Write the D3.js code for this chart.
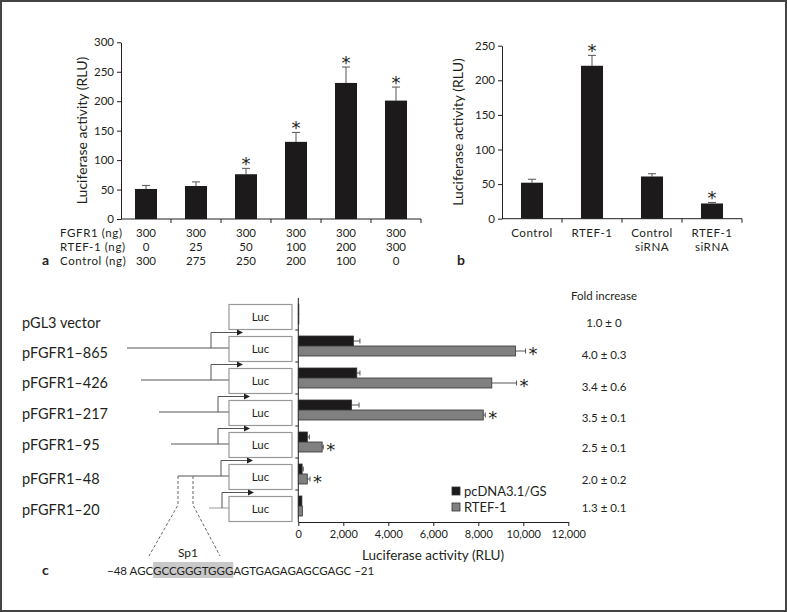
<!DOCTYPE html>
<html><head><meta charset="utf-8">
<script src="https://cdn.jsdelivr.net/npm/d3@7"></script>
<style>body{margin:0;background:#fff} svg{display:block;font-family:Lato,'Noto Sans',sans-serif}</style>
</head><body><svg id="fig" width="787" height="612"></svg>
<script>
// ---------- Panel a data ----------
const aFGFR1 = [300, 300, 300, 300, 300, 300];
const aRTEF1 = [0, 25, 50, 100, 200, 300];
const aControl = [300, 275, 250, 200, 100, 0];
const aMeans = [51, 56, 76, 131, 231, 201];
const aErr = [6, 7, 10, 16, 27, 23];
const aSig = [false, false, true, true, true, true];
const aTicks = [0, 50, 100, 150, 200, 250, 300];
const aRowLabels = ["FGFR1 (ng)", "RTEF-1 (ng)", "Control (ng)"];

// ---------- Panel b data ----------
const bCats = [["Control"], ["RTEF-1"], ["Control", "siRNA"], ["RTEF-1", "siRNA"]];
const bMeans = [52, 221, 61, 22];
const bErr = [5, 15, 4, 1.5];
const bSig = [false, true, false, true];
const bTicks = [0, 50, 100, 150, 200, 250];

// ---------- Panel c data ----------
const cConstructs = ["pGL3 vector", "pFGFR1–865", "pFGFR1–426", "pFGFR1–217", "pFGFR1–95", "pFGFR1–48", "pFGFR1–20"];
const cPromStart = [null, -865, -426, -217, -95, -48, -20];
const cCtrl = [25, 2450, 2600, 2370, 400, 170, 160];
const cCtrlErr = [0, 290, 140, 330, 90, 50, 0];
const cRtef = [25, 9650, 8600, 8220, 1060, 400, 180];
const cRtefErr = [0, 450, 1100, 90, 50, 120, 0];
const cSig = [false, true, true, true, true, true, false];
const cFold = ["1.0 ± 0", "4.0 ± 0.3", "3.4 ± 0.6", "3.5 ± 0.1", "2.5 ± 0.1", "2.0 ± 0.2", "1.3 ± 0.1"];
const cTicks = [0, 2000, 4000, 6000, 8000, 10000, 12000];
const cSeries = ["pcDNA3.1/GS", "RTEF-1"];
const seqParts = ["−48 AGC", "GCCGGGTGGG", "AGTGAGAGAGCGAGC −21"];

const svg = d3.select("#fig");
const INK = "#231f20", BAR = "#1c1a1b", GREY = "#808080", ERR = "#555";
const STARFONT = "'DejaVu Sans',sans-serif";

// frame
svg.append("rect").attr("x", 1).attr("y", 1).attr("width", 785).attr("height", 610)
  .attr("fill", "none").attr("stroke", "#444").attr("stroke-width", 2);

function styleAxis(g, fs) {
  g.selectAll("path,line").attr("stroke", INK).attr("stroke-width", 1);
  g.selectAll("text").attr("fill", INK).attr("font-size", fs).attr("font-family", "Lato,'Noto Sans',sans-serif");
}

// ================= Panel a =================
{
  const x = d3.scaleBand().domain(d3.range(aMeans.length)).range([121, 421]).paddingInner(0.56).paddingOuter(0.28);
  const y = d3.scaleLinear().domain([0, 300]).range([219, 42.3]);
  const g = svg.append("g");
  const ya = g.append("g").attr("transform", "translate(121,0)")
    .call(d3.axisLeft(y).tickValues(aTicks).tickSize(4).tickSizeOuter(0).tickPadding(3));
  styleAxis(ya, 11.5);
  g.append("line").attr("x1", 121).attr("x2", 421).attr("y1", y(0)).attr("y2", y(0)).attr("stroke", INK);
  g.selectAll(".xt").data(d3.range(1, aMeans.length + 1)).join("line")
    .attr("x1", i => 121 + i * x.step()).attr("x2", i => 121 + i * x.step())
    .attr("y1", y(0)).attr("y2", y(0) + 4).attr("stroke", INK);
  g.selectAll(".eb").data(aMeans).join("line")
    .attr("x1", (d, i) => x(i) + x.bandwidth() / 2).attr("x2", (d, i) => x(i) + x.bandwidth() / 2)
    .attr("y1", d => y(d)).attr("y2", (d, i) => y(d + aErr[i])).attr("stroke", ERR);
  g.selectAll(".ec").data(aMeans).join("line")
    .attr("x1", (d, i) => x(i) + x.bandwidth() / 2 - 4).attr("x2", (d, i) => x(i) + x.bandwidth() / 2 + 4)
    .attr("y1", (d, i) => y(d + aErr[i])).attr("y2", (d, i) => y(d + aErr[i])).attr("stroke", ERR);
  g.selectAll(".bar").data(aMeans).join("rect")
    .attr("x", (d, i) => x(i)).attr("width", x.bandwidth())
    .attr("y", d => y(d)).attr("height", d => y(0) - y(d)).attr("fill", BAR);
  g.selectAll(".star").data(aMeans.map((d, i) => ({ d, i })).filter(o => aSig[o.i])).join("text")
    .attr("x", o => x(o.i) + x.bandwidth() / 2).attr("y", o => y(o.d + aErr[o.i]) + 2)
    .attr("text-anchor", "middle").attr("font-size", 18).attr("font-family", STARFONT).attr("fill", INK).text("*");
  g.append("text").attr("transform", "translate(87,130.5) rotate(-90)").attr("text-anchor", "middle")
    .attr("font-size", 14).attr("fill", INK).text("Luciferase activity (RLU)");
  const rows = [aFGFR1, aRTEF1, aControl];
  rows.forEach((arr, r) => {
    const yy = 236.5 + r * 14;
    g.append("text").attr("x", 60).attr("y", yy).attr("font-size", 11.5).attr("letter-spacing", 0.6)
      .attr("fill", INK).text(aRowLabels[r]);
    g.selectAll(".rv" + r).data(arr).join("text")
      .attr("x", (d, i) => x(i) + x.bandwidth() / 2).attr("y", yy).attr("text-anchor", "middle")
      .attr("font-size", 11.5).attr("fill", INK).text(d => d);
  });
  g.append("text").attr("x", 42).attr("y", 265).attr("font-size", 14).attr("font-weight", "bold").attr("fill", INK).text("a");
}

// ================= Panel b =================
{
  const x = d3.scaleBand().domain(d3.range(bMeans.length)).range([502, 742]).paddingInner(0.633).paddingOuter(0.3165);
  const y = d3.scaleLinear().domain([0, 250]).range([218.7, 45.7]);
  const g = svg.append("g");
  const ya = g.append("g").attr("transform", "translate(502,0)")
    .call(d3.axisLeft(y).tickValues(bTicks).tickSize(4).tickSizeOuter(0).tickPadding(3));
  styleAxis(ya, 11.5);
  g.append("line").attr("x1", 502).attr("x2", 742).attr("y1", y(0)).attr("y2", y(0)).attr("stroke", INK);
  g.selectAll(".xt").data(d3.range(1, bMeans.length + 1)).join("line")
    .attr("x1", i => 502 + i * x.step()).attr("x2", i => 502 + i * x.step())
    .attr("y1", y(0)).attr("y2", y(0) + 4).attr("stroke", INK);
  g.selectAll(".eb").data(bMeans).join("line")
    .attr("x1", (d, i) => x(i) + x.bandwidth() / 2).attr("x2", (d, i) => x(i) + x.bandwidth() / 2)
    .attr("y1", d => y(d)).attr("y2", (d, i) => y(d + bErr[i])).attr("stroke", ERR);
  g.selectAll(".ec").data(bMeans).join("line")
    .attr("x1", (d, i) => x(i) + x.bandwidth() / 2 - 4).attr("x2", (d, i) => x(i) + x.bandwidth() / 2 + 4)
    .attr("y1", (d, i) => y(d + bErr[i])).attr("y2", (d, i) => y(d + bErr[i])).attr("stroke", ERR);
  g.selectAll(".bar").data(bMeans).join("rect")
    .attr("x", (d, i) => x(i)).attr("width", x.bandwidth())
    .attr("y", d => y(d)).attr("height", d => y(0) - y(d)).attr("fill", BAR);
  g.selectAll(".star").data(bMeans.map((d, i) => ({ d, i })).filter(o => bSig[o.i])).join("text")
    .attr("x", o => x(o.i) + x.bandwidth() / 2).attr("y", o => y(o.d + bErr[o.i]) + 2)
    .attr("text-anchor", "middle").attr("font-size", 18).attr("font-family", STARFONT).attr("fill", INK).text("*");
  g.append("text").attr("transform", "translate(463,132) rotate(-90)").attr("text-anchor", "middle")
    .attr("font-size", 14).attr("fill", INK).text("Luciferase activity (RLU)");
  bCats.forEach((lines, i) => {
    lines.forEach((s, k) => {
      g.append("text").attr("x", x(i) + x.bandwidth() / 2).attr("y", 237 + k * 14)
        .attr("text-anchor", "middle").attr("font-size", 11.6).attr("letter-spacing", 0.5).attr("fill", INK).text(s);
    });
  });
  g.append("text").attr("x", 457).attr("y", 265).attr("font-size", 14).attr("font-weight", "bold").attr("fill", INK).text("b");
}

// ================= Panel c =================
{
  const x = d3.scaleLinear().domain([0, 12000]).range([298.3, 568.3]);
  const y = d3.scaleBand().domain(cConstructs).range([298, 522]);
  const rc = i => y(cConstructs[i]) + y.bandwidth() / 2;
  const g = svg.append("g");
  const xa = g.append("g").attr("transform", "translate(0,522)")
    .call(d3.axisBottom(x).tickValues(cTicks).tickSize(4).tickSizeOuter(0).tickPadding(4).tickFormat(d3.format(",")));
  styleAxis(xa, 11);
  g.append("line").attr("x1", x(0)).attr("x2", x(0)).attr("y1", 298).attr("y2", 522).attr("stroke", INK);
  g.selectAll(".yt").data(d3.range(1, cConstructs.length)).join("line")
    .attr("x1", x(0) - 3).attr("x2", x(0)).attr("y1", i => 298 + i * y.step()).attr("y2", i => 298 + i * y.step())
    .attr("stroke", INK);
  g.append("text").attr("x", 433).attr("y", 559.5).attr("text-anchor", "middle").attr("font-size", 13.5).attr("fill", INK)
    .text("Luciferase activity (RLU)");

  const bh = 10;
  [[cCtrl, cCtrlErr, BAR, -bh], [cRtef, cRtefErr, GREY, 0]].forEach(([vals, errs, col, off]) => {
    vals.forEach((v, i) => {
      const yy = rc(i) + off;
      if (errs[i] > 0) {
        g.append("line").attr("x1", x(v)).attr("x2", x(v + errs[i])).attr("y1", yy + bh / 2).attr("y2", yy + bh / 2).attr("stroke", ERR);
        g.append("line").attr("x1", x(v + errs[i])).attr("x2", x(v + errs[i])).attr("y1", yy + bh / 2 - 2.5).attr("y2", yy + bh / 2 + 2.5).attr("stroke", ERR);
      }
      g.append("rect").attr("x", x(0)).attr("y", yy).attr("width", x(v) - x(0)).attr("height", bh)
        .attr("fill", col).attr("stroke", "#333").attr("stroke-width", 0.8);
    });
  });
  cSig.forEach((s, i) => {
    if (!s) return;
    g.append("text").attr("x", x(cRtef[i] + cRtefErr[i]) + 3).attr("y", rc(i) + 14)
      .attr("font-size", 18).attr("font-family", STARFONT).attr("fill", INK).text("*");
  });

  g.append("text").attr("x", 604).attr("y", 300).attr("text-anchor", "middle").attr("font-size", 11.5).attr("fill", INK).text("Fold increase");
  const foldOff = [9, 9, 9, 8, 6, 6, 2];
  cFold.forEach((s, i) => {
    g.append("text").attr("x", 604).attr("y", rc(i) + foldOff[i] + 4).attr("text-anchor", "middle")
      .attr("font-size", 11.5).attr("fill", INK).text(s);
  });

  [BAR, GREY].forEach((col, k) => {
    g.append("rect").attr("x", 452).attr("y", 487 + k * 16).attr("width", 8).attr("height", 8)
      .attr("fill", col).attr("stroke", "#333").attr("stroke-width", 0.8);
    g.append("text").attr("x", 464).attr("y", 495.5 + k * 16).attr("font-size", 13).attr("fill", INK).text(cSeries[k]);
  });

  const labOff = [9, 7, 5, 4, 3, 5, 4];
  cConstructs.forEach((s, i) => {
    g.append("text").attr("x", 22).attr("y", rc(i) + labOff[i] + 5).attr("font-size", 14.5).attr("fill", INK).text(s);
  });

  const px = d3.scaleLinear().domain([-865, -426, -217, -95, -48, -20]).range([127, 141, 159, 171, 178, 209]);
  const tssX = [null, 211, 211, 218, 218, 221, 222];
  const boxX = 229, boxW = 63, boxH = 25;
  cConstructs.forEach((s, i) => {
    const bc = rc(i) + 2;
    const top = bc - boxH / 2 + 1;
    if (cPromStart[i] !== null) {
      const lc = i === 6 ? "#999" : "#555";
      g.append("line").attr("x1", px(cPromStart[i])).attr("x2", boxX).attr("y1", bc).attr("y2", bc).attr("stroke", lc);
      g.append("path").attr("d", `M${tssX[i]},${bc}V${top - 4}H${tssX[i] + 27}`).attr("fill", "none").attr("stroke", "#555");
      g.append("path").attr("d", `M${tssX[i] + 26},${top - 7}L${tssX[i] + 32},${top - 4}L${tssX[i] + 26},${top - 1}Z`).attr("fill", "#222");
    }
    g.append("rect").attr("x", boxX).attr("y", top).attr("width", boxW).attr("height", boxH)
      .attr("fill", "#fff").attr("stroke", "#999").attr("stroke-width", 1.2);
    g.append("text").attr("x", boxX + boxW / 2).attr("y", top + boxH / 2 + 4).attr("text-anchor", "middle")
      .attr("font-size", 11.5).attr("fill", INK).text("Luc");
  });

  const ly = rc(5) + 2;
  g.append("path").attr("d", `M178,${ly}V505L149,556`).attr("fill", "none").attr("stroke", "#666").attr("stroke-dasharray", "3,2");
  g.append("path").attr("d", `M193,${ly}V505L220,556`).attr("fill", "none").attr("stroke", "#666").attr("stroke-dasharray", "3,2");
  g.append("text").attr("x", 188).attr("y", 557).attr("text-anchor", "middle").attr("font-size", 12).attr("fill", INK).text("Sp1");

  const hl = g.append("rect").attr("fill", "#c8c8c8");
  const t = g.append("text").attr("x", 107).attr("y", 575).attr("font-size", 11.5).attr("fill", INK);
  seqParts.forEach(p => t.append("tspan").text(p));
  const node = t.node();
  const s0 = node.getSubStringLength(0, seqParts[0].length);
  const s1 = node.getSubStringLength(seqParts[0].length, seqParts[1].length);
  hl.attr("x", 107 + s0).attr("y", 562).attr("width", s1).attr("height", 16);

  g.append("text").attr("x", 42).attr("y", 575).attr("font-size", 14).attr("font-weight", "bold").attr("fill", INK).text("c");
}
</script></body></html>
